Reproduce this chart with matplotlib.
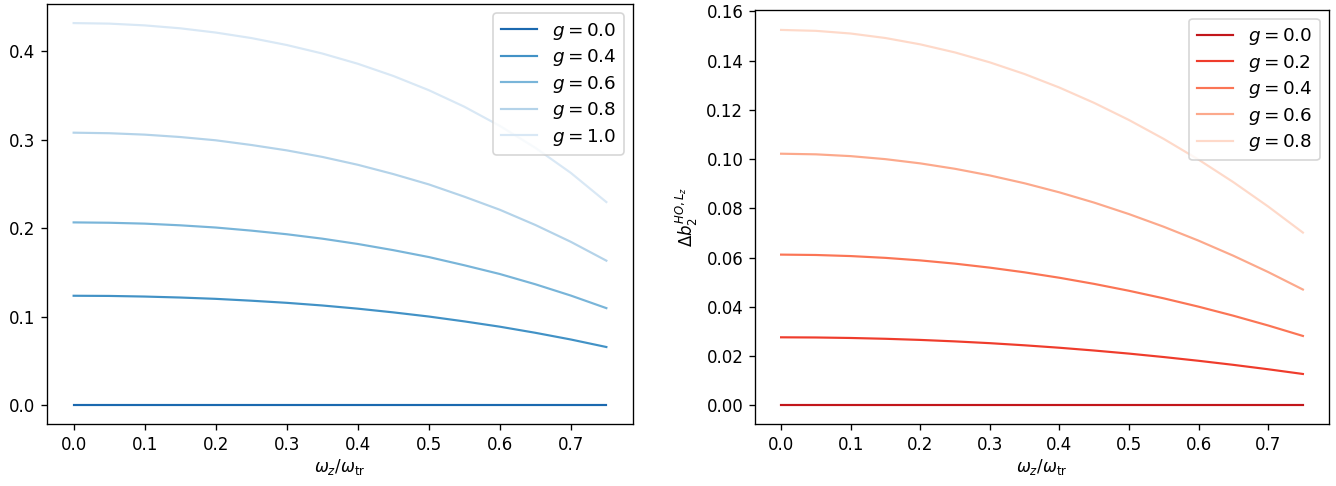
import matplotlib
matplotlib.use("Agg")
import matplotlib.pyplot as plt
import numpy as np

# omega_z / omega_tr grid
x = [0.0, 0.05, 0.1, 0.15, 0.2, 0.25, 0.3, 0.35, 0.4, 0.45, 0.5, 0.55, 0.6, 0.65, 0.7, 0.75]

# left panel (Blues)
g_left = [0.0, 0.4, 0.6, 0.8, 1.0]
left_g00 = [0.0] * 16
left_g04 = [0.1235, 0.1233, 0.1226, 0.1215, 0.1200, 0.1179, 0.1155, 0.1125,
            0.1089, 0.1047, 0.1000, 0.0945, 0.0885, 0.0816, 0.0740, 0.0655]
left_g06 = [0.2065, 0.2061, 0.2051, 0.2032, 0.2007, 0.1972, 0.1931, 0.1881,
            0.1821, 0.1751, 0.1673, 0.1580, 0.1481, 0.1365, 0.1237, 0.1095]
left_g08 = [0.3080, 0.3074, 0.3058, 0.3031, 0.2994, 0.2941, 0.2880, 0.2806,
            0.2717, 0.2612, 0.2495, 0.2356, 0.2208, 0.2036, 0.1845, 0.1632]
left_g10 = [0.4320, 0.4314, 0.4294, 0.4261, 0.4213, 0.4151, 0.4072, 0.3976,
            0.3860, 0.3722, 0.3561, 0.3374, 0.3157, 0.2909, 0.2625, 0.2295]
left_data = [left_g00, left_g04, left_g06, left_g08, left_g10]

# right panel (Reds)
g_right = [0.0, 0.2, 0.4, 0.6, 0.8]
right_g00 = [0.0] * 16
right_g02 = [0.0276, 0.02753, 0.02733, 0.02700, 0.02654, 0.02594, 0.02522, 0.02435,
             0.02336, 0.02223, 0.02098, 0.01958, 0.01806, 0.01641, 0.01462, 0.01270]
right_g04 = [0.0612, 0.06105, 0.06061, 0.05988, 0.05885, 0.05753, 0.05591, 0.05400,
             0.05180, 0.04930, 0.04651, 0.04343, 0.04005, 0.03638, 0.03241, 0.02815]
right_g06 = [0.1022, 0.10195, 0.10122, 0.09999, 0.09828, 0.09607, 0.09337, 0.09018,
             0.08650, 0.08233, 0.07767, 0.07252, 0.06688, 0.06075, 0.05413, 0.04701]
right_g08 = [0.1525, 0.15213, 0.15104, 0.14921, 0.14664, 0.14335, 0.13932, 0.13457,
             0.12908, 0.12285, 0.11590, 0.10821, 0.09980, 0.09065, 0.08076, 0.07015]
right_data = [right_g00, right_g02, right_g04, right_g06, right_g08]

W, H, dpi = 1336, 486, 120
fig = plt.figure(figsize=(W / dpi, H / dpi), dpi=dpi)

def px_axes(x0, y0, x1, y1):
    # pixel box (top-left origin) -> figure fraction
    return fig.add_axes([x0 / W, 1 - y1 / H, (x1 - x0) / W, (y1 - y0) / H])

ax1 = px_axes(47, 4, 633, 424)
ax2 = px_axes(755, 9.5, 1329, 424)

blues = plt.cm.Blues(np.linspace(0.78, 0.15, len(g_left)))
for g, y, c in zip(g_left, left_data, blues):
    ax1.plot(x, y, color=c, lw=1.3, label=f"$g = {g:.1f}$")

reds = plt.cm.Reds(np.linspace(0.78, 0.15, len(g_right)))
for g, y, c in zip(g_right, right_data, reds):
    ax2.plot(x, y, color=c, lw=1.3, label=f"$g = {g:.1f}$")

ax1.set_yticks([0.0, 0.1, 0.2, 0.3, 0.4])
ax2.set_yticks([0.0, 0.02, 0.04, 0.06, 0.08, 0.10, 0.12, 0.14, 0.16])
ax2.set_yticklabels(["0.00", "0.02", "0.04", "0.06", "0.08", "0.10", "0.12", "0.14", "0.16"])
ax2.set_ylim(top=0.1608)

for ax in (ax1, ax2):
    ax.set_xlabel(r"$\omega_z/\omega_{\rm tr}$", labelpad=2)
    ax.legend(loc="upper right", fontsize=11, labelspacing=0.3)
    ax.set_xticks([0.0, 0.1, 0.2, 0.3, 0.4, 0.5, 0.6, 0.7])

# left label sits mostly outside the canvas, as in the original figure
ax1.set_ylabel(r"$\Delta b_2^{HO,L_z}$")
ax1.yaxis.set_label_coords(-0.073, 0.47)
ax2.set_ylabel(r"$\Delta b_2^{HO,L_z}$")

plt.savefig("out.png", dpi=dpi)
